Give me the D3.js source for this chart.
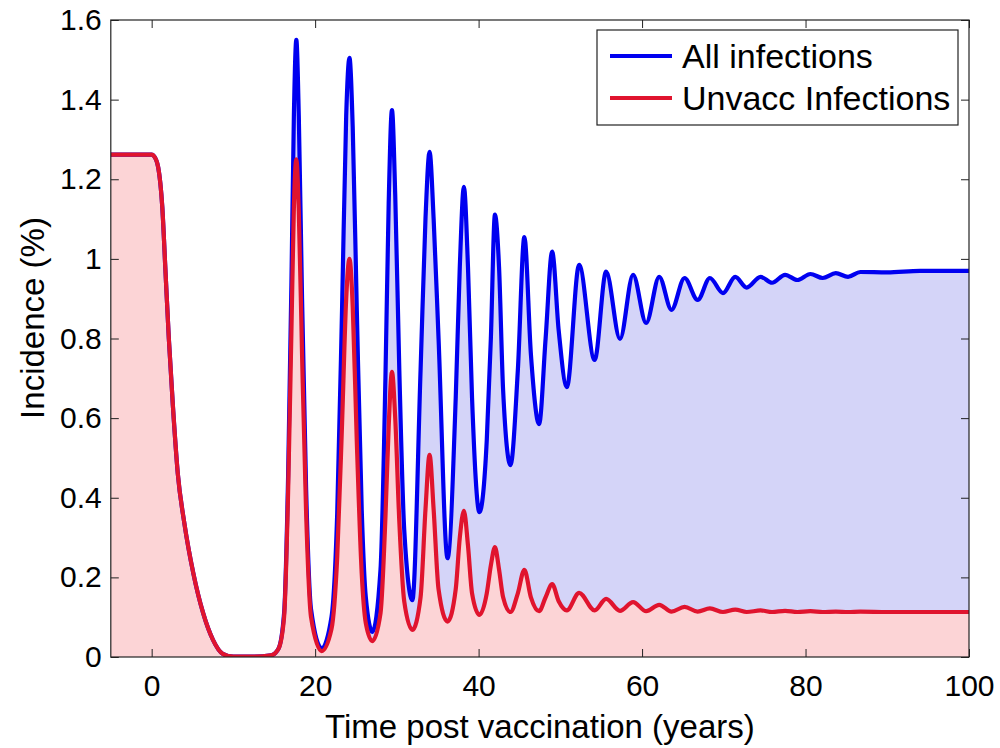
<!DOCTYPE html>
<html>
<head>
<meta charset="utf-8">
<script src="https://cdn.jsdelivr.net/npm/d3@7"></script>
<style>
  html, body { margin: 0; padding: 0; background: #ffffff; }
  svg { display: block; }
  text { font-family: "Liberation Sans", Arial, Helvetica, sans-serif; fill: #000; }
</style>
</head>
<body>
<svg id="chart" width="1000" height="748"></svg>
<script>
// ---- Data ----
const years = [
  -5, 0, 0.3, 0.8, 1.3, 1.7, 2.1, 2.6, 3.2, 4.0, 5.1, 6.3, 7.5, 8.7, 10, 12.5, 14.6,
  15.5, 16.2, 16.7, 17.1, 17.4, 17.7, 18.0, 18.4, 18.9, 19.5, 20.8,
  22.0, 22.7, 23.3, 23.8, 24.2, 24.6, 25.1, 25.7, 26.2, 27.0,
  28.0, 28.6, 29.0, 29.4, 29.8, 30.3, 30.9, 31.9,
  32.9, 33.5, 34.0, 34.5, 35.1, 36.2,
  37.2, 37.7, 38.2, 38.7, 39.2, 40.1,
  41.0, 41.5, 42.0, 42.5, 43.0, 43.9,
  44.8, 45.6, 46.4, 47.4,
  48.2, 49.0, 49.8, 50.8,
  52.3, 54.2, 55.6, 57.3, 58.9, 60.5, 62.1, 63.6, 65.2, 66.8, 68.3, 69.9,
  71.4, 72.8, 74.5, 75.9, 77.5, 79.0, 80.6, 82.1, 83.7, 85.2, 86.7, 90, 94, 100
];
const allInfections = [
  1.262, 1.262, 1.258, 1.23, 1.13, 0.965, 0.80, 0.63, 0.46, 0.336, 0.21, 0.11, 0.043, 0.008, 0.001, 0.001, 0.004,
  0.02, 0.11, 0.46, 0.94, 1.36, 1.55, 1.36, 0.90, 0.42, 0.12, 0.022,
  0.10, 0.36, 0.88, 1.36, 1.505, 1.33, 0.87, 0.37, 0.15, 0.063,
  0.22, 0.70, 1.14, 1.374, 1.16, 0.72, 0.32, 0.143,
  0.72, 1.10, 1.269, 1.10, 0.80, 0.248,
  0.65, 0.98, 1.181, 0.98, 0.65, 0.364,
  0.545, 0.80, 1.111, 0.98, 0.67, 0.482,
  0.72, 1.055, 0.76, 0.585,
  0.80, 1.018, 0.82, 0.678,
  0.985, 0.746, 0.968, 0.799, 0.960, 0.839, 0.955, 0.872, 0.952, 0.897, 0.952, 0.914,
  0.955, 0.928, 0.955, 0.940, 0.960, 0.947, 0.962, 0.952, 0.964, 0.955, 0.967, 0.966, 0.970, 0.970
];
const unvaccInfections = [
  1.262, 1.262, 1.258, 1.23, 1.13, 0.965, 0.80, 0.63, 0.46, 0.336, 0.21, 0.11, 0.043, 0.008, 0.001, 0.001, 0.004,
  0.02, 0.10, 0.42, 0.82, 1.13, 1.25, 1.12, 0.76, 0.36, 0.10, 0.015,
  0.07, 0.25, 0.59, 0.90, 1.00, 0.88, 0.54, 0.21, 0.085, 0.040,
  0.11, 0.35, 0.58, 0.716, 0.60, 0.34, 0.14, 0.068,
  0.15, 0.37, 0.508, 0.37, 0.17, 0.089,
  0.17, 0.30, 0.367, 0.28, 0.16, 0.106,
  0.16, 0.23, 0.276, 0.22, 0.15, 0.113,
  0.16, 0.219, 0.15, 0.115,
  0.15, 0.183, 0.14, 0.117,
  0.161, 0.117, 0.146, 0.116, 0.138, 0.115, 0.131, 0.114, 0.126, 0.114, 0.122, 0.113,
  0.119, 0.113, 0.117, 0.113, 0.116, 0.113, 0.115, 0.113, 0.114, 0.113, 0.114, 0.113, 0.113, 0.113
];
const xTicks = [0, 20, 40, 60, 80, 100];
const yTicks = [0, 0.2, 0.4, 0.6, 0.8, 1, 1.2, 1.4, 1.6];
const seriesNames = ["All infections", "Unvacc Infections"];
const xLabel = "Time post vaccination (years)";
const yLabel = "Incidence (%)";

// ---- Layout ----
const svg = d3.select("#chart");
const pL = 110.8, pR = 969, pT = 20, pB = 657;
const x = d3.scaleLinear().domain([-5, 100]).range([pL, pR]);
const y = d3.scaleLinear().domain([0, 1.6]).range([pB, pT]);

const allData = years.map((t, i) => ({ t, v: allInfections[i] }));
const unvData = years.map((t, i) => ({ t, v: unvaccInfections[i] }));

svg.append("defs").append("clipPath").attr("id", "plotclip")
  .append("rect").attr("x", pL).attr("y", pT).attr("width", pR - pL).attr("height", pB - pT);

const g = svg.append("g").attr("clip-path", "url(#plotclip)");
const area = d3.area().x(d => x(d.t)).y0(y(0)).y1(d => y(d.v)).curve(d3.curveMonotoneX);
const line = d3.line().x(d => x(d.t)).y(d => y(d.v)).curve(d3.curveMonotoneX);

g.append("path").datum(allData).attr("d", area).attr("fill", "#d4d4f8");
g.append("path").datum(unvData).attr("d", area).attr("fill", "#fcd4d6");
g.append("path").datum(allData).attr("d", line).attr("fill", "none")
  .attr("stroke", "#0000f0").attr("stroke-width", 4.2).attr("stroke-linejoin", "round");
g.append("path").datum(unvData).attr("d", line).attr("fill", "none")
  .attr("stroke", "#e0142e").attr("stroke-width", 4.2).attr("stroke-linejoin", "round");

// ---- Axes (MATLAB style box with inward ticks) ----
const tickLen = 8;
const fmt = d => (d === 0 ? "0" : String(+d.toFixed(1)));

const axB = svg.append("g").attr("transform", `translate(0,${pB})`)
  .call(d3.axisBottom(x).tickValues(xTicks).tickSizeInner(-tickLen).tickSizeOuter(0).tickPadding(18).tickFormat(d3.format("d")));
const axT = svg.append("g").attr("transform", `translate(0,${pT})`)
  .call(d3.axisTop(x).tickValues(xTicks).tickSizeInner(-tickLen).tickSizeOuter(0).tickFormat(""));
const axL = svg.append("g").attr("transform", `translate(${pL},0)`)
  .call(d3.axisLeft(y).tickValues(yTicks).tickSizeInner(-tickLen).tickSizeOuter(0).tickPadding(9).tickFormat(fmt));
const axR = svg.append("g").attr("transform", `translate(${pR},0)`)
  .call(d3.axisRight(y).tickValues(yTicks).tickSizeInner(-tickLen).tickSizeOuter(0).tickFormat(""));

[axB, axT, axL, axR].forEach(a => {
  a.select(".domain").remove();
  a.selectAll(".tick line").attr("stroke", "#222").attr("stroke-width", 1);
  a.selectAll(".tick text").attr("font-size", 30).attr("fill", "#000")
    .style("font-family", "'Liberation Sans', Arial, Helvetica, sans-serif");
});

svg.append("rect").attr("x", pL).attr("y", pT).attr("width", pR - pL).attr("height", pB - pT)
  .attr("fill", "none").attr("stroke", "#222").attr("stroke-width", 1.2);

// ---- Axis titles ----
svg.append("text").attr("x", (pL + pR) / 2).attr("y", 738)
  .attr("text-anchor", "middle").attr("font-size", 33).text(xLabel);
svg.append("text").attr("transform", "translate(44,318) rotate(-90)")
  .attr("text-anchor", "middle").attr("font-size", 33).text(yLabel);

// ---- Legend ----
const leg = svg.append("g");
leg.append("rect").attr("x", 597).attr("y", 30).attr("width", 361).attr("height", 95)
  .attr("fill", "#fff").attr("stroke", "#222").attr("stroke-width", 1.2);
const legColors = ["#0000f0", "#e0142e"];
const legY = [56, 98];
seriesNames.forEach((name, i) => {
  leg.append("line").attr("x1", 610).attr("x2", 672).attr("y1", legY[i]).attr("y2", legY[i])
    .attr("stroke", legColors[i]).attr("stroke-width", 4);
  leg.append("text").attr("x", 682).attr("y", legY[i]).attr("dy", "0.35em")
    .attr("font-size", 34).text(name);
});
</script>
</body>
</html>
